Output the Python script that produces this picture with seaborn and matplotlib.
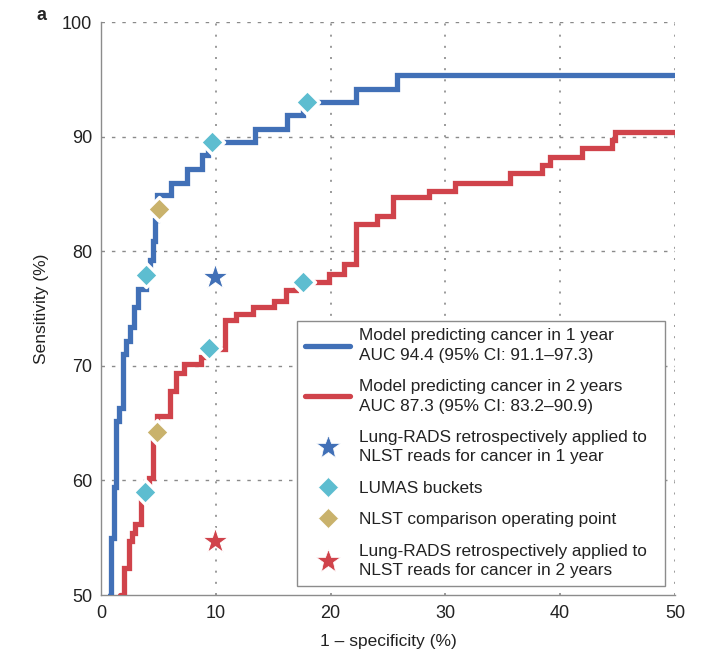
import matplotlib
matplotlib.use("Agg")
import matplotlib.pyplot as plt
from matplotlib.lines import Line2D
import seaborn as sns
import pandas as pd

# ROC staircase for the 1-year model: (1 - specificity, sensitivity) plateau starts
fpr_1yr = [0.75, 0.9, 1.15, 1.3, 1.6, 1.9, 2.2, 2.55, 2.9, 3.2, 3.9, 4.3, 4.5, 4.7, 4.9,
           6.1, 7.5, 8.8, 9.3, 13.4, 16.2, 17.6, 22.2, 25.8, 50.0]
tpr_1yr = [50.0, 55.0, 59.4, 65.2, 66.3, 71.0, 72.2, 73.4, 75.1, 76.7, 77.9, 79.2, 80.9, 82.7, 84.9,
           86.0, 87.2, 88.4, 89.5, 90.7, 91.9, 93.0, 94.2, 95.4, 95.4]

# ROC staircase for the 2-year model
fpr_2yr = [1.65, 2.0, 2.45, 2.7, 3.0, 3.45, 3.85, 4.2, 4.5, 4.75, 4.9, 6.0, 6.5, 7.2, 8.7, 9.2,
           10.8, 11.75, 13.2, 15.1, 16.1, 17.0, 19.9, 21.2, 22.2, 24.0, 25.4, 28.6, 30.8, 35.6,
           38.4, 39.1, 41.9, 44.5, 44.8, 50.0]
tpr_2yr = [50.0, 52.4, 54.7, 55.4, 56.2, 58.2, 59.0, 60.2, 63.5, 64.3, 65.6, 67.8, 69.4, 70.2, 70.8, 71.5,
           74.0, 74.5, 75.1, 75.7, 76.6, 77.3, 78.0, 78.9, 82.4, 83.1, 84.7, 85.3, 86.0, 86.8,
           87.5, 88.2, 89.0, 89.7, 90.4, 90.4]

# Operating points
lumas_fpr = [3.9, 9.7, 17.9, 3.8, 9.4, 17.6]
lumas_tpr = [77.9, 89.5, 93.0, 59.0, 71.6, 77.3]
nlst_fpr = [5.05, 4.85]
nlst_tpr = [83.7, 64.2]
lungrads_1yr = (9.95, 77.8)
lungrads_2yr = (9.95, 54.7)

label_1yr = "Model predicting cancer in 1 year\nAUC 94.4 (95% CI: 91.1\u201397.3)"
label_2yr = "Model predicting cancer in 2 years\nAUC 87.3 (95% CI: 83.2\u201390.9)"
label_lr1 = "Lung-RADS retrospectively applied to\nNLST reads for cancer in 1 year"
label_lumas = "LUMAS buckets"
label_nlst = "NLST comparison operating point"
label_lr2 = "Lung-RADS retrospectively applied to\nNLST reads for cancer in 2 years"

BLUE = "#4170B7"
RED = "#D0434B"
CYAN = "#5DBDD0"
GOLD = "#C9B26C"
GRID = "#8a8a8a"
TEXT = "#222222"
NARROW = ["Liberation Sans Narrow", "Liberation Sans", "DejaVu Sans"]

sns.set_style("white")
plt.rcParams["font.family"] = ["Liberation Sans", "DejaVu Sans"]

fig = plt.figure(figsize=(7.09, 6.53), dpi=100)
ax = fig.add_axes([0.1425, 0.0888, 0.8095, 0.8772])

df1 = pd.DataFrame({"fpr": fpr_1yr, "tpr": tpr_1yr})
df2 = pd.DataFrame({"fpr": fpr_2yr, "tpr": tpr_2yr})
sns.lineplot(data=df1, x="fpr", y="tpr", estimator=None, sort=False, drawstyle="steps-post",
             color=BLUE, lw=3.8, ax=ax, zorder=3, solid_joinstyle="miter")
sns.lineplot(data=df2, x="fpr", y="tpr", estimator=None, sort=False, drawstyle="steps-post",
             color=RED, lw=3.8, ax=ax, zorder=3, solid_joinstyle="miter")

sns.scatterplot(x=lumas_fpr, y=lumas_tpr, marker="D", s=150, color=CYAN,
                edgecolor="white", linewidth=2.4, ax=ax, zorder=5)
sns.scatterplot(x=nlst_fpr, y=nlst_tpr, marker="D", s=150, color=GOLD,
                edgecolor="white", linewidth=2.4, ax=ax, zorder=5)
sns.scatterplot(x=[lungrads_1yr[0]], y=[lungrads_1yr[1]], marker="*", s=380, color=BLUE,
                edgecolor="white", linewidth=0.8, ax=ax, zorder=5)
sns.scatterplot(x=[lungrads_2yr[0]], y=[lungrads_2yr[1]], marker="*", s=380, color=RED,
                edgecolor="white", linewidth=0.8, ax=ax, zorder=5)

ax.set_xlim(0, 50)
ax.set_ylim(50, 100)
ax.set_xticks([0, 10, 20, 30, 40, 50])
ax.set_yticks([50, 60, 70, 80, 90, 100])

# Grid: dashed horizontals, dotted verticals
for yv in [60, 70, 80, 90, 100]:
    ax.axhline(yv, color=GRID, lw=1.0, ls=(0, (2.5, 5)), zorder=1)
for xv in [10, 20, 30, 40, 50]:
    ax.axvline(xv, color=GRID, lw=1.2, ls=(0, (1.2, 5.5)), zorder=1)

for side in ["top", "right"]:
    ax.spines[side].set_visible(False)
for side in ["left", "bottom"]:
    ax.spines[side].set_color("#8c8c8c")
    ax.spines[side].set_linewidth(1.0)

ax.tick_params(axis="y", direction="out", length=4, width=0.8, color="#8c8c8c",
               labelsize=13, pad=2.5, labelcolor=TEXT)
ax.tick_params(axis="x", direction="inout", length=7, width=0.8, color="#8c8c8c",
               labelsize=13, pad=4, labelcolor=TEXT)

ax.set_xlabel("1 \u2013 specificity (%)", fontsize=12.5, color=TEXT, labelpad=8, family=NARROW)
ax.set_ylabel("Sensitivity (%)", fontsize=12.5, color=TEXT, labelpad=9, family=NARROW)

fig.text(0.059, 0.976, "a", fontsize=13, fontweight="bold", ha="center", va="center")

handles = [
    Line2D([], [], color=BLUE, lw=3.8),
    Line2D([], [], color=RED, lw=3.8),
    Line2D([], [], color=BLUE, marker="*", ls="none", markersize=18, markeredgecolor="white", markeredgewidth=0.5),
    Line2D([], [], color=CYAN, marker="D", ls="none", markersize=10.5, markeredgecolor="white", markeredgewidth=0.5),
    Line2D([], [], color=GOLD, marker="D", ls="none", markersize=10.5, markeredgecolor="white", markeredgewidth=0.5),
    Line2D([], [], color=RED, marker="*", ls="none", markersize=18, markeredgecolor="white", markeredgewidth=0.5),
]
labels = [label_1yr, label_2yr, label_lr1, label_lumas, label_nlst, label_lr2]
leg = ax.legend(handles, labels, loc="lower left", bbox_to_anchor=(0.3415, 0.016, 0.641, 0.47),
                mode="expand", borderaxespad=0, fontsize=12.4, frameon=True, fancybox=False,
                handlelength=2.65, handletextpad=0.52, labelspacing=0.95,
                borderpad=0.45, edgecolor="#8c8c8c", framealpha=1)
leg.get_frame().set_linewidth(1.0)
for t in leg.get_texts():
    t.set_color(TEXT)
    t.set_linespacing(1.37)

fig.savefig("out.png", dpi=100, facecolor="white")
